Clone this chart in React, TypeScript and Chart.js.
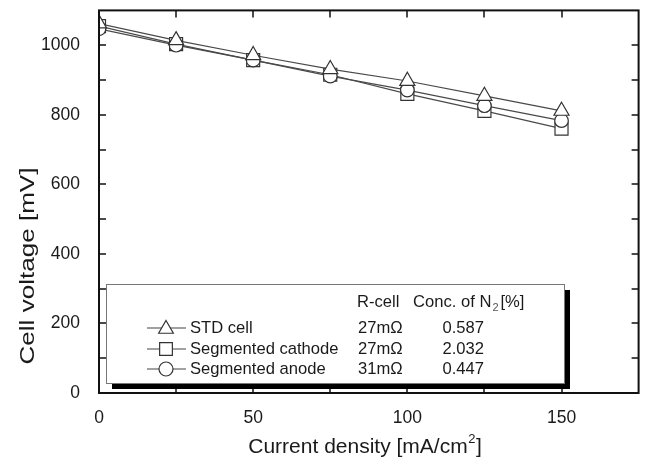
import React, { useEffect, useRef } from "react";
import { Chart, registerables } from "chart.js";

Chart.register(...registerables);

const currentDensity = [0, 25, 50, 75, 100, 125, 150];
const stdCell = [1062, 1014, 971, 931, 897, 854, 811];
const segCathode = [1055, 1003, 957, 915, 860, 811, 760];
const segAnode = [1047, 1000, 957, 911, 871, 826, 783];

const seriesNames = ["STD cell", "Segmented cathode", "Segmented anode"];
const rCell = ["27mΩ", "27mΩ", "31mΩ"];
const concN2 = ["0.587", "2.032", "0.447"];
const xTitle = "Current density [mA/cm";
const yTitle = "Cell voltage [mV]";

const FONT = "'Liberation Sans', Arial, sans-serif";
const TEXT = "#1a1a1a";

function drawPoint(ctx: CanvasRenderingContext2D, style: string, r: number, x: number, y: number) {
  ctx.beginPath();
  if (style === "triangle") {
    let rad = 0;
    ctx.moveTo(x + Math.sin(rad) * r, y - Math.cos(rad) * r);
    rad += (2 * Math.PI) / 3;
    ctx.lineTo(x + Math.sin(rad) * r, y - Math.cos(rad) * r);
    rad += (2 * Math.PI) / 3;
    ctx.lineTo(x + Math.sin(rad) * r, y - Math.cos(rad) * r);
    ctx.closePath();
  } else if (style === "rect") {
    const s = Math.SQRT1_2 * r;
    ctx.rect(x - s, y - s, 2 * s, 2 * s);
  } else {
    ctx.arc(x, y, r, 0, Math.PI * 2);
  }
  ctx.fill();
  ctx.stroke();
}

const framePlugin = {
  id: "frameTicks",
  beforeDatasetsDraw(chart: any) {
    const { ctx, chartArea: a, scales } = chart;
    const xs = scales.x;
    const ys = scales.y;
    ctx.save();
    ctx.strokeStyle = "#111";
    ctx.lineWidth = 1.5;
    const L = 7;
    ctx.beginPath();
    for (let v = 25; v < 175; v += 25) {
      const px = Math.round(xs.getPixelForValue(v));
      ctx.moveTo(px, a.bottom);
      ctx.lineTo(px, a.bottom - L);
      ctx.moveTo(px, a.top);
      ctx.lineTo(px, a.top + L);
    }
    for (let v = 100; v < 1100; v += 100) {
      const py = Math.round(ys.getPixelForValue(v));
      ctx.moveTo(a.left, py);
      ctx.lineTo(a.left + L, py);
      ctx.moveTo(a.right, py);
      ctx.lineTo(a.right - L, py);
    }
    ctx.stroke();
    ctx.restore();
  },
  afterDatasetsDraw(chart: any) {
    const { ctx, chartArea: a } = chart;
    ctx.save();
    // frame
    ctx.strokeStyle = "#111";
    ctx.lineWidth = 2;
    ctx.strokeRect(a.left, a.top, a.right - a.left, a.bottom - a.top);

    // titles
    ctx.fillStyle = TEXT;
    ctx.textBaseline = "middle";
    ctx.font = `21px ${FONT}`;
    const w1 = ctx.measureText(xTitle).width;
    ctx.font = `13px ${FONT}`;
    const wsup = ctx.measureText("2").width;
    ctx.font = `21px ${FONT}`;
    const wb = ctx.measureText("]").width;
    const total = w1 + wsup + wb + 1;
    let sx = 365 - total / 2;
    ctx.textAlign = "left";
    ctx.fillText(xTitle, sx, 447);
    ctx.font = `13px ${FONT}`;
    ctx.fillText("2", sx + w1 + 0.5, 439);
    ctx.font = `21px ${FONT}`;
    ctx.fillText("]", sx + w1 + wsup + 1, 447);

    ctx.save();
    ctx.translate(28, 266);
    ctx.rotate(-Math.PI / 2);
    ctx.font = `21px ${FONT}`;
    const wy = ctx.measureText(yTitle).width;
    ctx.scale(197 / wy, 1);
    ctx.textAlign = "center";
    ctx.fillText(yTitle, 0, 0);
    ctx.restore();

    // legend box
    const bx = 106, by = 284, bw = 458, bh = 99;
    ctx.fillStyle = "#000";
    ctx.fillRect(bx + 6, by + 6, bw, bh);
    ctx.fillStyle = "#fff";
    ctx.fillRect(bx, by, bw, bh);
    ctx.strokeStyle = "#777";
    ctx.lineWidth = 1;
    ctx.strokeRect(bx + 0.5, by + 0.5, bw, bh);

    ctx.fillStyle = TEXT;
    ctx.textBaseline = "middle";
    ctx.font = `16.6px ${FONT}`;
    ctx.textAlign = "left";
    ctx.fillText("R-cell", 357, 302);
    const t1 = "Conc. of N";
    ctx.fillText(t1, 413, 302);
    const w = ctx.measureText(t1).width;
    ctx.font = `11px ${FONT}`;
    ctx.fillStyle = "#555";
    ctx.fillText("2", 413 + w + 1, 308);
    const w2 = ctx.measureText("2").width;
    ctx.fillStyle = TEXT;
    ctx.font = `16.6px ${FONT}`;
    ctx.fillText("[%]", 413 + w + w2 + 3, 302);

    const rows = [328, 349, 369];
    const styles = ["triangle", "rect", "circle"];
    const radii = [8.5, 9, 7];
    rows.forEach((ry, i) => {
      ctx.strokeStyle = "#444";
      ctx.lineWidth = 1.2;
      ctx.beginPath();
      ctx.moveTo(147, ry);
      ctx.lineTo(186, ry);
      ctx.stroke();
      ctx.fillStyle = "#fff";
      ctx.strokeStyle = "#333";
      ctx.lineWidth = 1.2;
      drawPoint(ctx, styles[i], radii[i], 166, i === 0 ? ry + 1 : ry);
      ctx.fillStyle = TEXT;
      ctx.font = `16.6px ${FONT}`;
      ctx.textAlign = "left";
      ctx.fillText(seriesNames[i], 190, ry);
      ctx.fillText(rCell[i], 358, ry);
      ctx.textAlign = "right";
      ctx.fillText(concN2[i], 484, ry);
    });
    ctx.restore();
  },
};

export default function App() {
  const ref = useRef<HTMLCanvasElement>(null);
  useEffect(() => {
    if (!ref.current) return;
    const series = [
      { data: stdCell, style: "triangle", r: 8.7 },
      { data: segAnode, style: "circle", r: 6.8 },
      { data: segCathode, style: "rect", r: 9.2 },
    ];
    const pts = (d: number[]) => currentDensity.map((x, i) => ({ x, y: d[i] }));
    const lineSets = series.map((s, i) => ({
      label: "line" + i,
      data: pts(s.data),
      borderColor: "#4a4a4a",
      borderWidth: 1.2,
      pointRadius: 0,
      showLine: true,
      fill: false,
      tension: 0,
      clip: 0,
      order: 10,
    }));
    const pointSets = series.map((s, i) => ({
      label: "pts" + i,
      data: pts(s.data),
      pointStyle: s.style,
      pointRadius: s.r,
      pointBackgroundColor: "#fff",
      pointBorderColor: "#333",
      pointBorderWidth: 1.2,
      showLine: false,
      clip: 0,
      order: i,
    }));
    const chart = new Chart(ref.current, {
      type: "scatter",
      data: { datasets: [...lineSets, ...pointSets] },
      options: {
        animation: false,
        responsive: false,
        layout: { padding: { top: 8, right: 7, left: 0, bottom: 0 } },
        plugins: { legend: { display: false }, tooltip: { enabled: false } },
        scales: {
          x: {
            type: "linear",
            min: 0,
            max: 175,
            grid: { display: false },
            border: { display: false },
            ticks: {
              stepSize: 25,
              padding: 7,
              color: TEXT,
              font: { family: FONT, size: 17.5 },
              maxRotation: 0,
              autoSkip: false,
              callback: (v: any) => (Number(v) % 50 === 0 ? String(v) : ""),
            },
            afterFit: (s: any) => {
              s.height = 71;
              s.paddingLeft = 0;
              s.paddingRight = 0;
            },
          },
          y: {
            type: "linear",
            min: 0,
            max: 1100,
            grid: { display: false },
            border: { display: false },
            ticks: {
              stepSize: 100,
              padding: 11,
              color: TEXT,
              font: { family: FONT, size: 17.5 },
              autoSkip: false,
              callback: (v: any) => (Number(v) % 200 === 0 ? String(v) : ""),
            },
            afterFit: (s: any) => {
              s.width = 99;
              s.paddingTop = 0;
              s.paddingBottom = 0;
            },
          },
        },
      } as any,
      plugins: [framePlugin],
    });
    return () => chart.destroy();
  }, []);
  return (
    <div style={{ position: "fixed", left: 0, top: 0, width: 649, height: 464, background: "#fff" }}>
      <canvas ref={ref} width={649} height={464} style={{ display: "block" }} />
    </div>
  );
}
